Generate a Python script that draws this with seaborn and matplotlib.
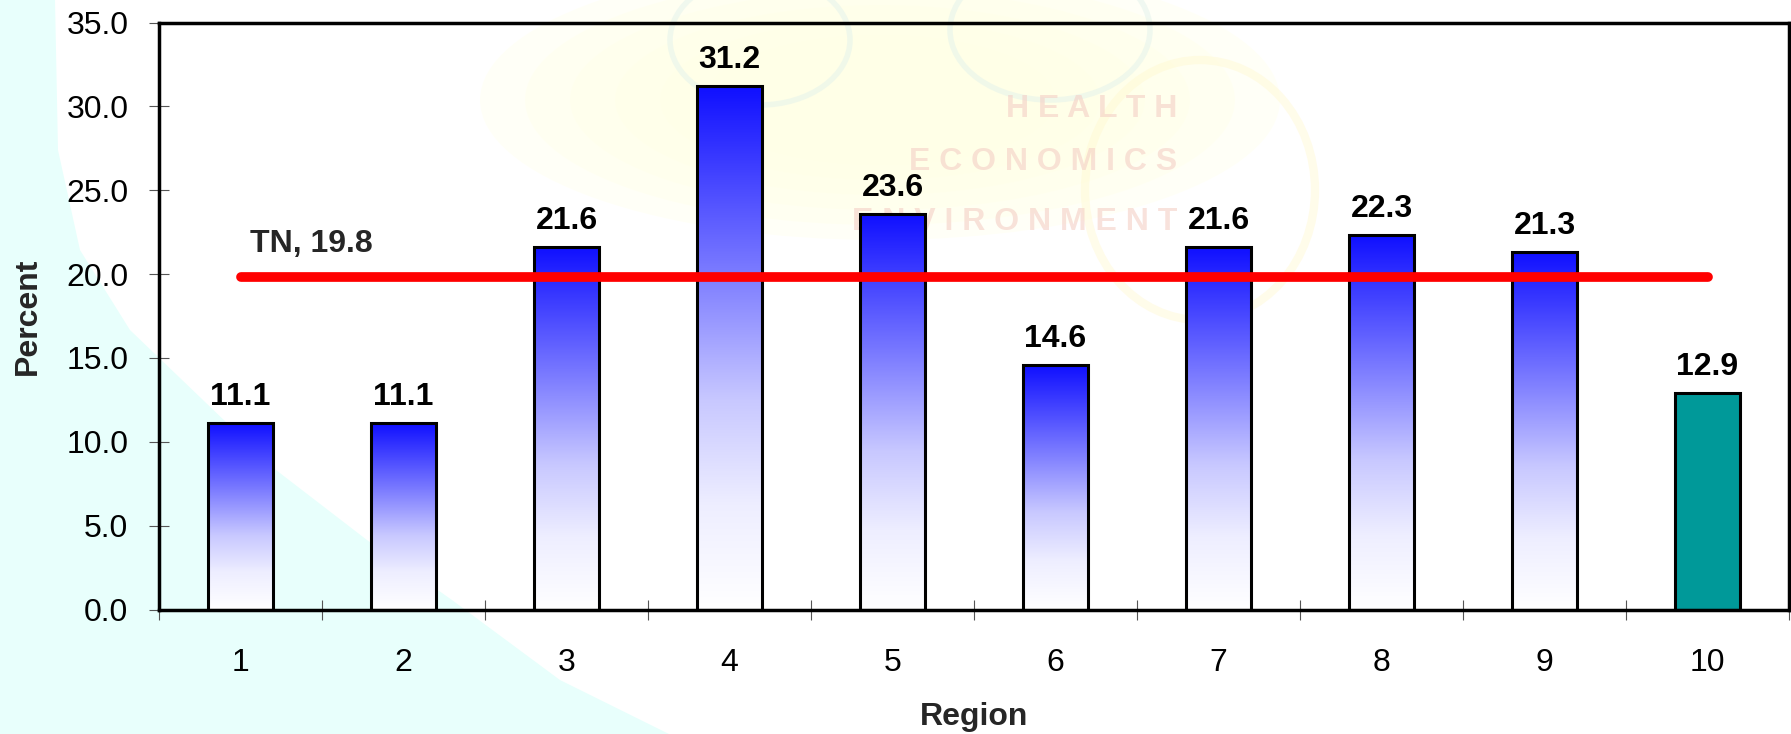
# Percent by region with state (TN) reference line

import numpy as np
import pandas as pd
import matplotlib
matplotlib.use("Agg")
import matplotlib.pyplot as plt
import seaborn as sns
from matplotlib.colors import LinearSegmentedColormap
from matplotlib.patches import Polygon, Ellipse

# Data
regions = ["1", "2", "3", "4", "5", "6", "7", "8", "9", "10"]
percent = [11.1, 11.1, 21.6, 31.2, 23.6, 14.6, 21.6, 22.3, 21.3, 12.9]
state_label = "TN"
state_value = 19.8

df = pd.DataFrame({"Region": regions, "Percent": percent})

sns.set_theme(style="white")
plt.rcParams['font.family'] = ['Liberation Sans', 'DejaVu Sans']

W, H = 1791, 734
fig = plt.figure(figsize=(W / 100, H / 100), dpi=100)
fig.patch.set_facecolor("white")

# Slide background (cyan swoosh + faint logo watermark)
bg = fig.add_axes([0, 0, 1, 1], zorder=0)
bg.set_xlim(0, W)
bg.set_ylim(H, 0)
bg.axis("off")
swoosh = [(0, 0), (55, 0), (58, 150), (80, 250), (130, 330), (203, 400),
          (276, 470), (367, 540), (452, 600), (560, 680), (669, 734), (0, 734)]
bg.add_patch(Polygon(swoosh, closed=True, facecolor="#E8FFFC", edgecolor="none"))
for k in range(6):
    bg.add_patch(Ellipse((880, 100), 800 - k * 90, 280 - k * 30,
                         facecolor="#FFFFE6", edgecolor="none", alpha=0.3))
bg.add_patch(Ellipse((1200, 190), 230, 260, facecolor="none",
                     edgecolor="#FFF8CC", linewidth=6, alpha=0.4))
bg.add_patch(Ellipse((760, 40), 180, 130, facecolor="none",
                     edgecolor="#E2F2EC", linewidth=4, alpha=0.5))
bg.add_patch(Ellipse((1050, 30), 200, 140, facecolor="none",
                     edgecolor="#E2F2EC", linewidth=4, alpha=0.5))
wm = dict(color="#F4CFC6", fontsize=23, ha="right", va="center", alpha=0.6,
          fontweight="bold", family=["Liberation Sans Narrow", "Liberation Sans"])
bg.text(1177, 109, "H E A L T H", **wm)
bg.text(1177, 162, "E C O N O M I C S", **wm)
bg.text(1177, 222, "E N V I R O N M E N T", **wm)

# Chart
ax = fig.add_axes([159 / W, 1 - 609.5 / H, 1630 / W, 587 / H], zorder=1)
ax.set_facecolor("none")

sns.barplot(data=df, x="Region", y="Percent", color="#1010FF", width=0.4,
            edgecolor="black", linewidth=2.2, saturation=1, ax=ax)

blue_grad = LinearSegmentedColormap.from_list(
    "bluegrad", [(0, "#FFFFFF"), (0.2, "#EEEEFF"), (0.4, "#C8C8FF"),
                 (0.63, "#8080FF"), (1.0, "#1010FF")])
grad = np.linspace(0, 1, 256).reshape(-1, 1)

bars = ax.patches
for i, p in enumerate(bars):
    x0, w, h = p.get_x(), p.get_width(), p.get_height()
    if i == len(bars) - 1:
        p.set_facecolor("#009999")
    else:
        im = ax.imshow(grad, cmap=blue_grad, origin="lower", aspect="auto",
                       extent=[x0, x0 + w, 0, h], zorder=p.get_zorder() - 0.01)
        im.set_clip_path(p)
        p.set_facecolor("none")
    ax.annotate(f"{h:.1f}", (x0 + w / 2, h), xytext=(0, 13),
                textcoords="offset points", ha="center", va="baseline",
                fontsize=23, fontweight="bold", color="black", zorder=5)

# State reference line
ax.plot([0, len(regions) - 1], [state_value, state_value], color="#FF0000",
        lw=7, solid_capstyle="round", zorder=4)
ax.text(0.06, state_value + 1.5, f"{state_label}, {state_value}",
        fontsize=23, fontweight="bold", ha="left", va="baseline", zorder=5)

# Axes
ax.set_xlim(-0.5, len(regions) - 0.5)
ax.set_ylim(0, 35)
ax.set_yticks(np.arange(0, 35.1, 5))
ax.set_yticklabels([f"{v:.1f}" for v in np.arange(0, 35.1, 5)])
ax.set_xticks(np.arange(-0.5, len(regions), 1), minor=True)
ax.tick_params(axis="x", which="major", length=0, pad=28, labelsize=23,
               labelcolor="black")
ax.tick_params(axis="x", which="minor", direction="inout", length=15,
               width=0.8, color="#555555", bottom=True)
ax.tick_params(axis="y", direction="inout", length=14, width=0.8,
               color="#555555", left=True, pad=15, labelsize=23,
               labelcolor="black")

for s in ax.spines.values():
    s.set_color("black")
    s.set_linewidth(2.5)

ax.set_xlabel("Region", fontsize=23, fontweight="bold", va="center")
ax.set_ylabel("Percent", fontsize=23, fontweight="bold", va="center")
ax.xaxis.set_label_coords(0.5, -0.183)
ax.yaxis.set_label_coords(-0.0804, 0.5)

plt.savefig("out.png", dpi=100, facecolor=fig.get_facecolor())
